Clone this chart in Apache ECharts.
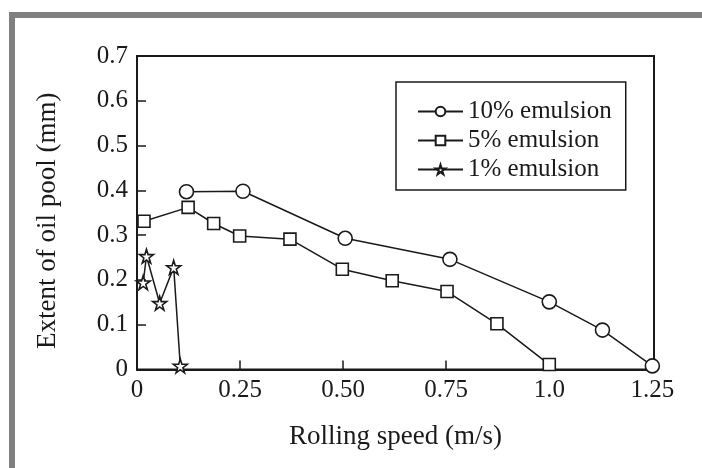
<!DOCTYPE html>
<html>
<head>
<meta charset="utf-8">
<script src="https://cdn.jsdelivr.net/npm/echarts@6/dist/echarts.min.js"></script>
<style>
html,body{margin:0;padding:0;background:#fff;}
#c{width:702px;height:468px;}
</style>
</head>
<body>
<div id="c"></div>
<script>
// Data
const seriesNames = ['10% emulsion', '5% emulsion', '1% emulsion'];
const emulsion10 = [[0.12, 0.397], [0.257, 0.398], [0.505, 0.293], [0.759, 0.246], [1.0, 0.151], [1.129, 0.088], [1.25, 0.008]];
const emulsion5 = [[0.017, 0.331], [0.124, 0.362], [0.186, 0.326], [0.249, 0.298], [0.371, 0.291], [0.498, 0.224], [0.619, 0.198], [0.752, 0.174], [0.873, 0.102], [1.0, 0.011]];
const emulsion1 = [[0.015, 0.194], [0.023, 0.253], [0.055, 0.148], [0.089, 0.228], [0.105, 0.008]];
const xTickLabels = {'0': '0', '0.25': '0.25', '0.5': '0.50', '0.75': '0.75', '1': '1.0', '1.25': '1.25'};
const yTickLabels = ['0', '0.1', '0.2', '0.3', '0.4', '0.5', '0.6', '0.7'];

const FONT = "'Liberation Serif', 'Times New Roman', serif";
const INK = '#1a1a1a';
const STAR = 'path://M50,0 L61,35 L98,35 L68,57 L79,91 L50,70 L21,91 L32,57 L2,35 L39,35 Z';

const chart = echarts.init(document.getElementById('c'), null, {renderer: 'canvas'});

function mkSeries(name, data, symbol, size) {
  return {
    name: name,
    type: 'line',
    data: data,
    symbol: symbol,
    symbolSize: size,
    showAllSymbol: true,
    animation: false,
    lineStyle: {color: INK, width: 1.5},
    itemStyle: {color: '#fff', borderColor: INK, borderWidth: 1.6},
    emphasis: {disabled: true}
  };
}

chart.setOption({
  backgroundColor: '#fff',
  animation: false,
  grid: {
    left: 137, right: 48, top: 56, bottom: 98.5,
    show: true, borderColor: INK, borderWidth: 2, backgroundColor: 'transparent'
  },
  graphic: [
    {type: 'rect', shape: {x: 9, y: 12, width: 693, height: 6}, style: {fill: '#808080'}, silent: true},
    {type: 'rect', shape: {x: 9, y: 12, width: 6, height: 456}, style: {fill: '#808080'}, silent: true}
  ],
  legend: {
    data: seriesNames,
    orient: 'vertical',
    left: 396,
    top: 82,
    padding: [17, 14, 8, 21],
    itemWidth: 45,
    itemHeight: 12,
    itemGap: 4,
    borderColor: INK,
    borderWidth: 1.5,
    backgroundColor: '#fff',
    textStyle: {fontFamily: FONT, fontSize: 25, color: INK, lineHeight: 25, padding: [0, 0, 0, 0]},
    selectedMode: false
  },
  xAxis: {
    type: 'value',
    min: 0,
    max: 1.254,
    interval: 0.25,
    name: 'Rolling speed (m/s)',
    nameLocation: 'middle',
    nameGap: 54,
    nameTextStyle: {fontFamily: FONT, fontSize: 27, color: INK},
    axisLine: {show: true, lineStyle: {color: INK, width: 2}},
    axisTick: {show: true, inside: true, length: 9, lineStyle: {color: INK, width: 1.5}},
    axisLabel: {
      margin: 8, fontFamily: FONT, fontSize: 25, color: INK,
      formatter: function (v) {
        const k = String(Math.round(v * 100) / 100);
        return Math.abs(v * 4 - Math.round(v * 4)) < 1e-6 && xTickLabels[k] !== undefined ? xTickLabels[k] : '';
      }
    },
    splitLine: {show: false}
  },
  yAxis: {
    type: 'value',
    min: 0,
    max: 0.7,
    interval: 0.1,
    name: 'Extent of oil pool (mm)',
    nameLocation: 'middle',
    nameGap: 76,
    nameRotate: 90,
    nameTextStyle: {fontFamily: FONT, fontSize: 27, color: INK, padding: [0, 16, 0, 0]},
    axisLine: {show: true, lineStyle: {color: INK, width: 2}},
    axisTick: {show: true, inside: true, length: 9, lineStyle: {color: INK, width: 1.5}},
    axisLabel: {
      margin: 9, fontFamily: FONT, fontSize: 25, color: INK,
      formatter: function (v) { return yTickLabels[Math.round(v * 10)] || ''; }
    },
    splitLine: {show: false}
  },
  series: [
    mkSeries(seriesNames[0], emulsion10, 'circle', 14),
    mkSeries(seriesNames[1], emulsion5, 'rect', 12),
    mkSeries(seriesNames[2], emulsion1, STAR, 14)
  ]
});
</script>
</body>
</html>
